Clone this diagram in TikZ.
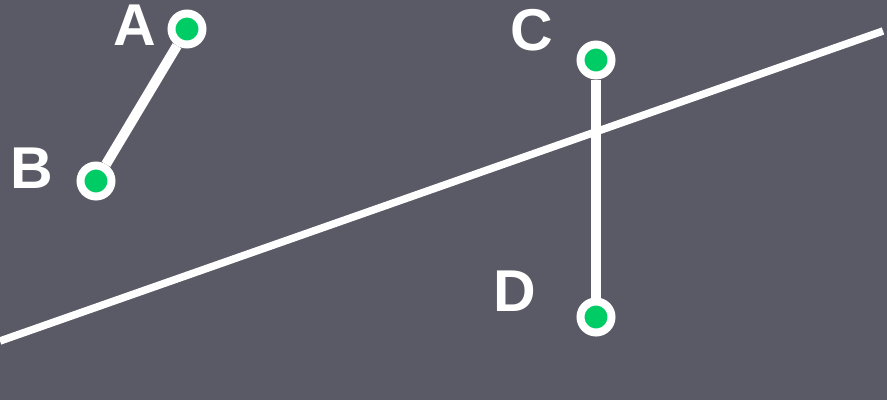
\documentclass[tikz,border=0pt]{standalone}
\usepackage{fontspec}
\setmainfont{Liberation Sans}
\definecolor{bg}{HTML}{5A5A66}
\definecolor{pt}{HTML}{00CC66}
\begin{document}
\begin{tikzpicture}[x=1pt,y=-1pt,
  seg/.style={draw=white,line width=10pt},
  longline/.style={draw=white,line width=7.5pt},
  dot/.style={circle,fill=pt,draw=white,line width=8pt,minimum size=31pt,inner sep=0pt},
  lab/.style={text=white,font=\fontsize{59}{59}\selectfont\bfseries,inner sep=0pt}]
\fill[bg] (0,0) rectangle (887,400);
\useasboundingbox (0,0) rectangle (887,400);
\coordinate (L) at (0,341);
\coordinate (R) at (883,31);
\draw[longline] (L) -- (R);
\node[dot] (A) at (187,29) {};
\node[dot] (B) at (96,181) {};
\node[dot] (C) at (596,60) {};
\node[dot] (D) at (596,317) {};
\draw[seg] (A) -- (B);
\draw[seg] (C) -- (D);
\node[lab] (lA) at (135,25) {A};
\node[lab] (lB) at (32,168) {B};
\node[lab] (lC) at (532,30) {C};
\node[lab] (lD) at (515,291) {D};
\end{tikzpicture}
\end{document}
